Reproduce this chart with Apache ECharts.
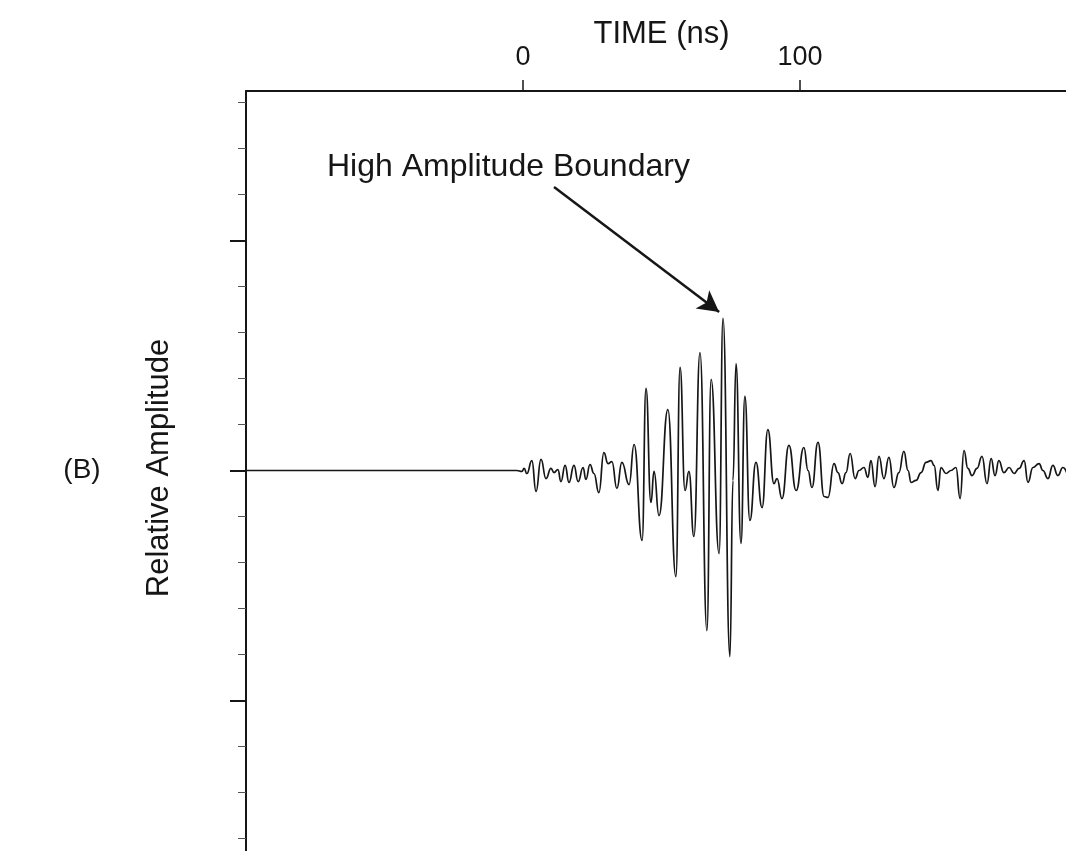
<!DOCTYPE html>
<html>
<head>
<meta charset="utf-8">
<title>Radar trace</title>
<script src="https://cdn.jsdelivr.net/npm/echarts@6/dist/echarts.min.js"></script>
<style>
  html, body { margin: 0; padding: 0; background: #fff; }
  #chart { width: 1066px; height: 851px; }
</style>
</head>
<body>
<div id="chart"></div>
<script>
// time of each sample (ns) and its relative amplitude
const timeNs = [
  -100, -2.2, -0.4, 0.4, 1.4, 3.2, 4.7, 6.5, 8.3, 10.1,
  11.2, 12.6, 13.7, 15.2, 16.6, 18.4, 19.9, 21.7, 22.7, 24.2,
  25.6, 27.4, 29.2, 30.7, 32.1, 33.9, 35.7, 38.3, 40.1, 43.0,
  44.4, 46.2, 47.3, 49.1, 52.3, 55.2, 56.7, 58.5, 59.9, 61.7,
  63.9, 66.4, 67.9, 70.8, 72.2, 74.7, 75.8, 76.9, 78.7, 80.1,
  81.9, 84.1, 86.3, 88.4, 90.6, 91.7, 93.5, 96.0, 98.6, 101.4,
  102.9, 104.3, 106.5, 108.7, 110.1, 112.3, 113.7, 115.2, 116.6, 118.1,
  119.9, 121.3, 123.1, 124.5, 125.6, 127.1, 128.5, 130.3, 132.1, 133.9,
  135.7, 137.5, 139.0, 140.1, 141.9, 143.7, 145.5, 147.3, 148.4, 149.8,
  150.9, 152.7, 154.5, 156.3, 157.8, 159.2, 160.6, 162.1, 163.9, 165.7,
  167.5, 169.0, 170.4, 171.8, 173.6, 175.5, 177.3, 179.1, 180.9, 182.3,
  184.1, 186.3, 187.7, 189.5, 191.3, 193.1, 194.9, 196.4
];
const amplitude = [
  0, 0, -0.004, 0.009, -0.013, 0.043, -0.091, 0.048, -0.035, 0.009,
  -0.009, 0.004, -0.048, 0.022, -0.052, 0.022, -0.048, 0.013, -0.039, 0.026,
  -0.013, -0.096, 0.078, 0.030, 0.039, -0.078, 0.035, -0.061, 0.113, -0.304,
  0.357, -0.139, -0.004, -0.196, 0.265, -0.461, 0.448, -0.087, -0.004, -0.287,
  0.513, -0.696, 0.396, -0.361, 0.661, -0.809, -0.043, 0.465, -0.317, 0.322,
  -0.217, 0.035, -0.161, 0.178, -0.057, -0.035, -0.122, 0.109, -0.087, 0.100,
  0, -0.074, 0.122, -0.113, -0.117, 0.030, -0.009, -0.057, -0.009, 0.074,
  -0.035, 0, 0.013, -0.030, 0.043, -0.070, 0.061, -0.035, 0.057, -0.074,
  -0.009, 0.083, 0, -0.052, -0.043, -0.009, 0.035, 0.043, 0.022, -0.087,
  0.013, -0.013, 0, 0.013, -0.122, 0.087, 0.009, -0.022, 0.009, 0.061,
  -0.057, 0.052, -0.022, 0.043, -0.009, 0.013, -0.013, 0.009, 0.043, -0.052,
  0.013, 0.030, 0, -0.035, 0.022, -0.022, 0.013, -0.013
];
const timeTicks = [0, 100];
const ampMajorTicks = [-2, -1, 0, 1];
const ampMinorTicks = [
  -1.8, -1.6, -1.4, -1.2, -0.8, -0.6, -0.4, -0.2,
  0.2, 0.4, 0.6, 0.8, 1.2, 1.4, 1.6
];
// arrow pointing at the strongest reflection [ns, amplitude]
const arrowFrom = [11.2, 1.233];
const arrowTo = [70.8, 0.689];

const ink = '#161616';
const fontFamily = 'Liberation Sans, Arial, sans-serif';

const chart = echarts.init(document.getElementById('chart'));

const option = {
  animation: false,
  backgroundColor: '#ffffff',
  textStyle: { fontFamily: fontFamily },
  // plot box runs off the right and bottom edges of the picture
  grid: {
    left: 246, top: 91, width: 831, height: 839.5,
    containLabel: false, outerBoundsMode: 'none'
  },
  xAxis: {
    type: 'value',
    position: 'top',
    min: -100,
    max: 200,
    interval: 100,
    name: 'TIME (ns)',
    nameLocation: 'middle',
    nameGap: 41,
    nameMoveOverlap: false,
    nameTextStyle: { fontSize: 31, color: ink, fontFamily: fontFamily },
    axisLine: { show: true, onZero: false, lineStyle: { color: ink, width: 2 } },
    axisTick: { show: true, length: 11, customValues: timeTicks, lineStyle: { color: ink, width: 1.5 } },
    axisLabel: { show: true, customValues: timeTicks, fontSize: 27, color: ink, margin: 20 },
    splitLine: { show: false }
  },
  yAxis: [
    {
      // major ticks
      type: 'value',
      position: 'left',
      min: -2,
      max: 1.65,
      interval: 1,
      axisLine: { show: true, onZero: false, lineStyle: { color: ink, width: 2 } },
      axisTick: { show: true, length: 16, customValues: ampMajorTicks, lineStyle: { color: ink, width: 2 } },
      axisLabel: { show: false },
      splitLine: { show: false }
    },
    {
      // minor ticks
      type: 'value',
      position: 'left',
      min: -2,
      max: 1.65,
      interval: 0.2,
      axisLine: { show: false, onZero: false },
      axisTick: { show: true, length: 8, customValues: ampMinorTicks, lineStyle: { color: '#555', width: 1 } },
      axisLabel: { show: false },
      splitLine: { show: false }
    }
  ],
  series: [
    {
      type: 'line',
      yAxisIndex: 0,
      data: timeNs.map((t, i) => [t, amplitude[i]]),
      showSymbol: false,
      smooth: 0.5,
      smoothMonotone: 'x',
      lineStyle: { color: ink, width: 1.7 },
      silent: true,
      markLine: {
        silent: true,
        symbol: ['none', 'arrow'],
        symbolSize: [17, 21],
        label: { show: false },
        lineStyle: { color: ink, width: 2.5, type: 'solid' },
        data: [[{ coord: arrowFrom }, { coord: arrowTo }]]
      }
    }
  ],
  graphic: [
    {
      type: 'text',
      x: 327,
      y: 167,
      style: {
        text: 'High Amplitude Boundary', fontSize: 32, fill: ink, fontFamily: fontFamily,
        align: 'left', verticalAlign: 'middle'
      }
    },
    {
      type: 'text',
      x: 159,
      y: 468,
      rotation: Math.PI / 2,
      style: {
        text: 'Relative Amplitude', fontSize: 31, fill: ink, fontFamily: fontFamily,
        align: 'center', verticalAlign: 'middle'
      }
    },
    {
      type: 'text',
      x: 82,
      y: 470,
      style: {
        text: '(B)', fontSize: 28, fill: ink, fontFamily: fontFamily,
        align: 'center', verticalAlign: 'middle'
      }
    }
  ]
};

chart.setOption(option);
</script>
</body>
</html>
